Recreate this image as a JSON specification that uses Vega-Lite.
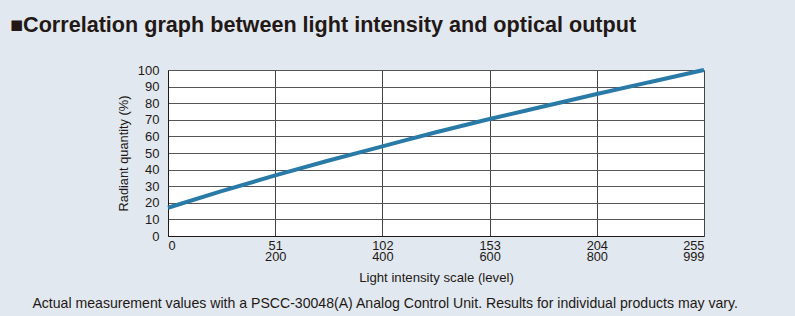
{
  "$schema": "https://vega.github.io/schema/vega-lite/v6.json",
  "autosize": {"type": "none"},
  "width": 536,
  "height": 166,
  "padding": {"left": 168, "top": 70, "right": 91, "bottom": 80},
  "background": "#e1e8ef",
  "title": {
    "text": "■Correlation graph between light intensity and optical output",
    "anchor": "start",
    "frame": "group",
    "dx": -158,
    "offset": 25,
    "font": "Liberation Sans",
    "fontSize": 21.6,
    "fontWeight": "bold",
    "color": "#231815"
  },
  "config": {
    "view": {"stroke": null, "fill": "white"},
    "axis": {"labelFont": "Liberation Sans", "titleFont": "Liberation Sans", "labelColor": "#231815", "titleColor": "#231815", "titleFontWeight": "normal"}
  },
  "encoding": {
    "x": {
      "field": "level", "type": "quantitative",
      "scale": {"domain": [0, 255], "nice": false, "zero": false},
      "axis": {
        "values": [0, 51, 102, 153, 204, 255],
        "labelExpr": "datum.value == 0 ? '0' : [datum.label, datum.value == 255 ? '999' : format(datum.value / 51 * 200, 'd')]",
        "labelFontSize": 12.8,
        "labelLineHeight": 11,
        "labelPadding": 3,
        "labelOverlap": false,
        "ticks": false,
        "domainColor": "#231815",
        "grid": true,
        "gridColor": "#444444",
        "gridWidth": 1,
        "title": "Light intensity scale (level)",
        "titleFontSize": 13.2,
        "titlePadding": 9
      }
    },
    "y": {
      "field": "radiant", "type": "quantitative",
      "scale": {"domain": [0, 100], "nice": false},
      "axis": {
        "values": [0, 10, 20, 30, 40, 50, 60, 70, 80, 90, 100],
        "labelFontSize": 13,
        "labelPadding": 9,
        "labelOverlap": false,
        "ticks": false,
        "domainColor": "#231815",
        "grid": true,
        "gridColor": "#555555",
        "gridWidth": 1,
        "title": "Radiant quantity (%)",
        "titleFontSize": 12.8,
        "titlePadding": 7
      }
    }
  },
  "layer": [
    {
      "data": {"values": [
        {"level": 0, "radiant": 17},
        {"level": 25.5, "radiant": 27},
        {"level": 51, "radiant": 36.5},
        {"level": 76.5, "radiant": 45.5},
        {"level": 102, "radiant": 54},
        {"level": 127.5, "radiant": 62.5},
        {"level": 153, "radiant": 70.5},
        {"level": 178.5, "radiant": 78},
        {"level": 204, "radiant": 85.5},
        {"level": 229.5, "radiant": 92.8},
        {"level": 255, "radiant": 100}
      ]},
      "mark": {"type": "line", "color": "#2a7aa8", "strokeWidth": 4, "interpolate": "monotone"}
    },
    {
      "data": {"values": [{"note": "Actual measurement values with a PSCC-30048(A) Analog Control Unit. Results for individual products may vary.", "level": -64.5, "radiant": -43.4}]},
      "mark": {"type": "text", "align": "left", "baseline": "alphabetic", "font": "Liberation Sans", "fontSize": 14.1, "color": "#231815", "clip": false},
      "encoding": {
        "text": {"field": "note"}
      }
    }
  ]
}
